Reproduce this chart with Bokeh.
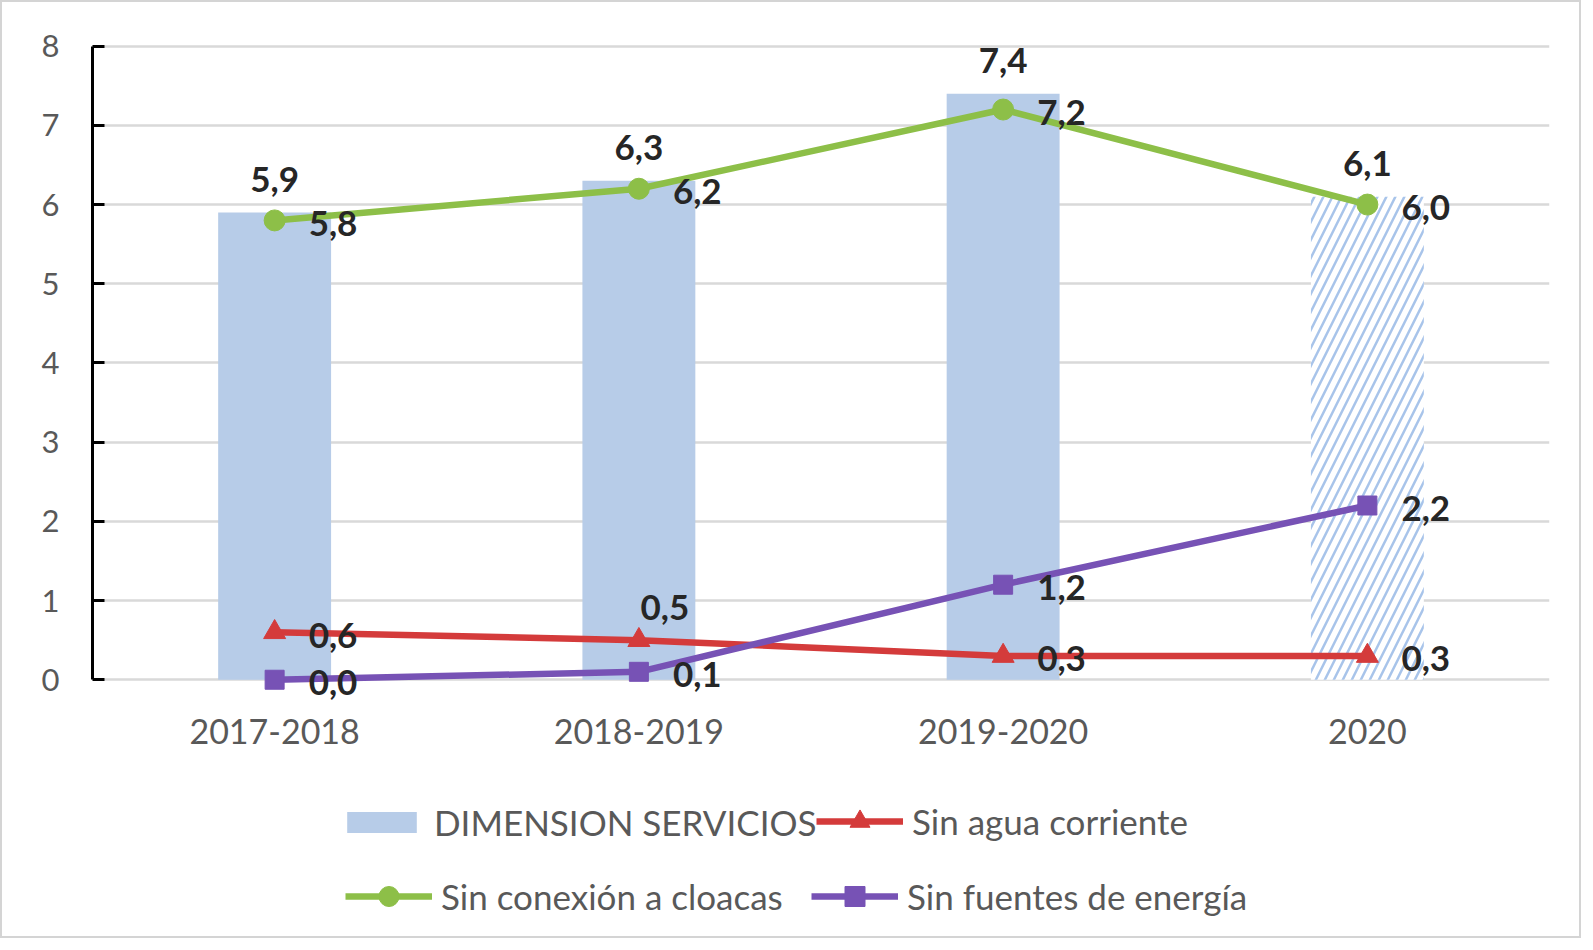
from bokeh.plotting import figure
from bokeh.layouts import column
from bokeh.models import FactorRange, Range1d, FixedTicker, Legend, LegendItem, ColumnDataSource
from bokeh.core.properties import value
from bokeh.embed import file_html
from bokeh.resources import INLINE

categories = ["2017-2018", "2018-2019", "2019-2020", "2020"]
dimension_servicios = [5.9, 6.3, 7.4, 6.1]
sin_agua = [0.6, 0.5, 0.3, 0.3]
sin_cloacas = [5.8, 6.2, 7.2, 6.0]
sin_energia = [0.0, 0.1, 1.2, 2.2]
y_ticks = [0, 1, 2, 3, 4, 5, 6, 7, 8]
series_names = ["DIMENSION SERVICIOS", "Sin agua corriente",
                "Sin conexión a cloacas", "Sin fuentes de energía"]

def fmt(v):
    return f"{v:.1f}".replace(".", ",")

FONT = "Lato"
BAR_C = "#B7CCE8"
RED = "#D43B3B"
GREEN = "#8DBF48"
PURPLE = "#7752B5"
LBL = "#262626"
TICK_C = "#595959"

p = figure(
    width=1577, height=770,
    x_range=FactorRange(*categories, range_padding=0),
    y_range=Range1d(-0.3, 8.4),
    output_backend="svg", toolbar_location=None,
    min_border_left=90, min_border_right=30, min_border_top=12, min_border_bottom=69,
)
p.outline_line_color = None
p.background_fill_color = "white"
p.border_fill_color = "white"

# axes
p.yaxis.ticker = FixedTicker(ticks=y_ticks)
p.yaxis.bounds = (0, 8)
p.yaxis.axis_line_color = "black"
p.yaxis.axis_line_width = 3
p.yaxis.major_tick_in = 12
p.yaxis.major_tick_out = 0
p.yaxis.major_tick_line_color = "black"
p.yaxis.major_tick_line_width = 3
p.yaxis.minor_tick_line_color = None
p.yaxis.major_label_text_font = FONT
p.yaxis.major_label_text_font_size = "31px"
p.yaxis.major_label_text_color = TICK_C
p.yaxis.major_label_standoff = 33

p.xaxis.axis_line_color = None
p.xaxis.major_tick_line_color = None
p.xaxis.minor_tick_line_color = None
p.xaxis.major_label_text_font = FONT
p.xaxis.major_label_text_font_size = "34px"
p.xaxis.major_label_text_color = TICK_C
p.xaxis.major_label_standoff = 9

p.xgrid.grid_line_color = None
p.ygrid.ticker = FixedTicker(ticks=y_ticks)
p.ygrid.grid_line_color = "#D9D9D9"
p.ygrid.grid_line_width = 2.5

# styles
bar_kw = dict(fill_color=BAR_C, line_color=None)
agua_line = dict(line_color=RED, line_width=6.5)
agua_mk = dict(marker="triangle", size=22, fill_color=RED, line_color=RED)
cl_line = dict(line_color=GREEN, line_width=6.5)
cl_mk = dict(marker="circle", size=21, fill_color=GREEN, line_color=GREEN)
en_line = dict(line_color=PURPLE, line_width=6.5)
en_mk = dict(marker="square", size=19, fill_color=PURPLE, line_color=PURPLE)

# bars
solid = ColumnDataSource(dict(x=categories[:3], top=dimension_servicios[:3]))
hatched = ColumnDataSource(dict(x=categories[3:], top=dimension_servicios[3:]))
p.vbar(x="x", top="top", bottom=0, width=0.31, source=solid, **bar_kw)
p.vbar(x="x", top="top", bottom=0, width=0.31, source=hatched,
       fill_color="white", line_color=None, hatch_pattern="right_diagonal_line",
       hatch_color="#A8C4EA", hatch_scale=18, hatch_weight=2.5)

# lines
p.line(categories, sin_agua, **agua_line)
p.scatter(categories, sin_agua, **agua_mk)
p.line(categories, sin_cloacas, **cl_line)
p.scatter(categories, sin_cloacas, **cl_mk)
p.line(categories, sin_energia, **en_line)
p.scatter(categories, sin_energia, **en_mk)

# data labels
lab_kw = dict(text_font=value(FONT), text_font_style="bold", text_font_size="35px", text_color=LBL)
p.text(categories, dimension_servicios, text=[fmt(v) for v in dimension_servicios],
       text_align="center", text_baseline="middle", y_offset=-33, **lab_kw)
for series in (sin_cloacas, sin_energia):
    p.text(categories, series, text=[fmt(v) for v in series],
           text_align="left", text_baseline="middle", x_offset=34, y_offset=3, **lab_kw)
agua_right = [i for i in range(len(categories)) if i != 1]
p.text([categories[i] for i in agua_right], [sin_agua[i] for i in agua_right],
       text=[fmt(sin_agua[i]) for i in agua_right],
       text_align="left", text_baseline="middle", x_offset=34, y_offset=3, **lab_kw)
p.text([categories[1]], [sin_agua[1]], text=[fmt(sin_agua[1])],
       text_align="center", text_baseline="middle", x_offset=26, y_offset=-33, **lab_kw)

# legend in its own panel figure (series drawn far outside its visible range)
lg = figure(width=1577, height=164, x_range=FactorRange(*categories),
            y_range=Range1d(100, 101),
            output_backend="svg", toolbar_location=None,
            min_border=0, min_border_left=0, min_border_right=0,
            min_border_top=0, min_border_bottom=0)
lg.axis.visible = False
lg.grid.visible = False
lg.outline_line_color = None
lg.border_fill_color = "white"
lg.background_fill_color = "white"
r_bar = lg.vbar(x=categories, top=dimension_servicios, bottom=0, width=0.31, **bar_kw)
r_al = lg.line(categories, sin_agua, **agua_line)
r_am = lg.scatter(categories, sin_agua, **agua_mk)
r_cl = lg.line(categories, sin_cloacas, **cl_line)
r_cm = lg.scatter(categories, sin_cloacas, **cl_mk)
r_el = lg.line(categories, sin_energia, **en_line)
r_em = lg.scatter(categories, sin_energia, **en_mk)

leg_kw = dict(
    orientation="horizontal",
    label_text_font=FONT, label_text_font_size="35px", label_text_color=TICK_C,
    glyph_width=87, label_height=34, label_standoff=9,
    spacing=0, padding=0, margin=0, border_line_color=None, background_fill_alpha=0,
)
legends = [
    Legend(items=[LegendItem(label=series_names[0], renderers=[r_bar])],
           location=(246, 93), glyph_height=26, **leg_kw),
    Legend(items=[LegendItem(label=series_names[1], renderers=[r_al, r_am])],
           location=(724, 90), glyph_height=50, **leg_kw),
    Legend(items=[LegendItem(label=series_names[2], renderers=[r_cl, r_cm])],
           location=(253, 15), glyph_height=50, **leg_kw),
    Legend(items=[LegendItem(label=series_names[3], renderers=[r_el, r_em])],
           location=(719, 15), glyph_height=50, **leg_kw),
]
for lgd in legends:
    lg.add_layout(lgd, "center")

layout = column(p, lg, spacing=0)
layout.styles = {"border": "2px solid #D4D4D4"}

open("out.html", "w").write(file_html(layout, INLINE))
